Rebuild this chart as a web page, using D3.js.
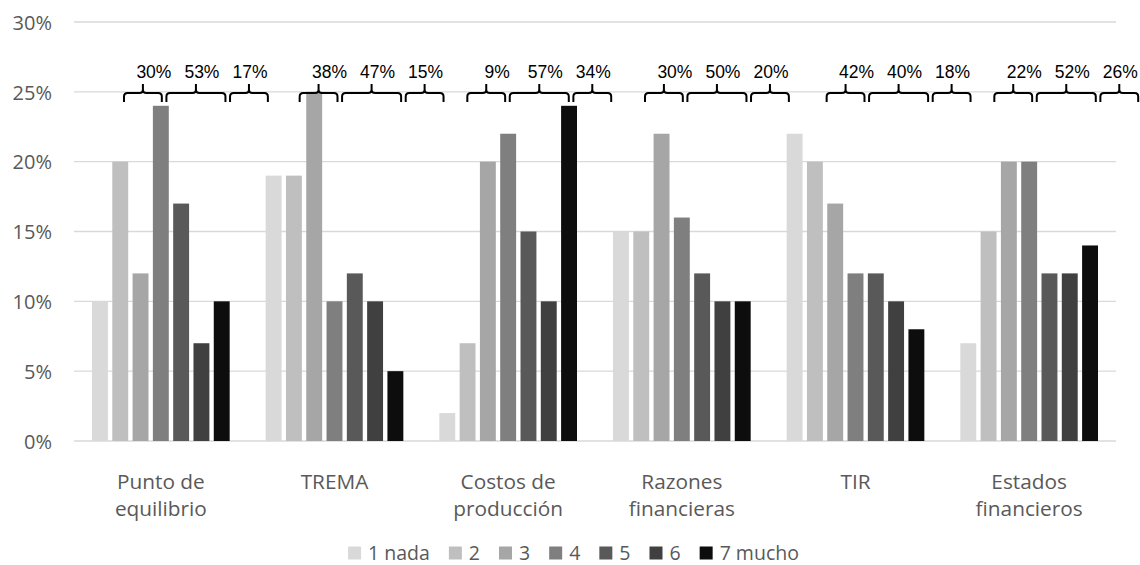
<!DOCTYPE html>
<html>
<head>
<meta charset="utf-8">
<script src="https://cdn.jsdelivr.net/npm/d3@7"></script>
<style>
  html, body { margin: 0; padding: 0; background: #fff; }
  svg { display: block; }
</style>
</head>
<body>
<svg id="chart" width="1140" height="565"></svg>
<script>
// ---------- DATA ----------
const categories = [["Punto de", "equilibrio"], ["TREMA"], ["Costos de", "producción"], ["Razones", "financieras"], ["TIR"], ["Estados", "financieros"]];
const seriesNames = ["1 nada", "2", "3", "4", "5", "6", "7 mucho"];
const s1 = [10, 19, 2, 15, 22, 7];
const s2 = [20, 19, 7, 15, 20, 15];
const s3 = [12, 25, 20, 22, 17, 20];
const s4 = [24, 10, 22, 16, 12, 20];
const s5 = [17, 12, 15, 12, 12, 12];
const s6 = [7, 10, 10, 10, 10, 12];
const s7 = [10, 5, 24, 10, 8, 14];
const yTicks = [0, 5, 10, 15, 20, 25, 30];
// grouped-percentage annotations (bars 1-2, 3-5, 6-7)
const braceGroups = [[0, 1], [2, 4], [5, 6]];
const braceLabels = [
  ["30%", "53%", "17%"],
  ["38%", "47%", "15%"],
  ["9%", "57%", "34%"],
  ["30%", "50%", "20%"],
  ["42%", "40%", "18%"],
  ["22%", "52%", "26%"]
];

// ---------- STYLE / LAYOUT ----------
const colors = ["#d9d9d9", "#bfbfbf", "#a6a6a6", "#7f7f7f", "#595959", "#404040", "#0d0d0d"];
const braceShift = [32, 34, 28, 32, 40, 34];
const labelNudge = [11, 6, 1];
const plotLeft = 74, plotRight = 1116, plotTop = 22, plotBottom = 441;
const font = "'Open Sans', 'Noto Sans', sans-serif";

const series = [s1, s2, s3, s4, s5, s6, s7];
const svg = d3.select("#chart");

const x0 = d3.scaleBand().domain(d3.range(categories.length)).range([plotLeft, plotRight]).padding(0);
const innerPad = 0.216;
const x1 = d3.scaleBand().domain(d3.range(seriesNames.length))
  .range([15.8, x0.bandwidth() - 15.8]).paddingInner(innerPad).paddingOuter(innerPad / 2);
const y = d3.scaleLinear().domain([0, 30]).range([plotBottom, plotTop]);

// gridlines
svg.append("g").selectAll("line").data(yTicks).join("line")
  .attr("x1", plotLeft).attr("x2", plotRight)
  .attr("y1", d => y(d)).attr("y2", d => y(d))
  .attr("stroke", "#d9d9d9").attr("stroke-width", 1.3);

// y axis labels
const yAxis = d3.axisLeft(y).tickValues(yTicks).tickFormat(d => d + "%").tickSize(0).tickPadding(0);
const ya = svg.append("g").attr("transform", `translate(${plotLeft - 22},0)`).call(yAxis);
ya.select(".domain").remove();
ya.selectAll("text").attr("font-family", font).attr("font-size", 20).attr("fill", "#595959").attr("dy", "0.36em");

// bars
const groups = svg.append("g").selectAll("g").data(categories).join("g")
  .attr("transform", (d, i) => `translate(${x0(i)},0)`);
groups.selectAll("rect").data((d, i) => series.map((s, k) => ({ k, v: s[i] }))).join("rect")
  .attr("x", d => x1(d.k)).attr("width", x1.bandwidth())
  .attr("y", d => y(d.v)).attr("height", d => y(0) - y(d.v))
  .attr("fill", d => colors[d.k]);

// x axis labels
const xl = svg.append("g").selectAll("text").data(categories).join("text")
  .attr("x", (d, i) => x0(i) + x0.bandwidth() / 2)
  .attr("y", 489)
  .attr("text-anchor", "middle")
  .attr("font-family", font).attr("font-size", 20.8).attr("fill", "#595959");
xl.selectAll("tspan").data(d => d).join("tspan")
  .attr("x", function () { return d3.select(this.parentNode).attr("x"); })
  .attr("dy", (d, j) => j === 0 ? 0 : 26.5)
  .text(d => d);

// braces + labels
const yLine = 93, yEnd = 102, yTip = 84, r = 3.5;
function bracePath(a, b) {
  const m = (a + b) / 2;
  return `M${a},${yEnd} L${a},${yLine + r} Q${a},${yLine} ${a + r},${yLine} L${m - r},${yLine} Q${m},${yLine} ${m},${yLine - r} L${m},${yTip}` +
    ` M${m},${yLine - r} Q${m},${yLine} ${m + r},${yLine} L${b - r},${yLine} Q${b},${yLine} ${b},${yLine + r} L${b},${yEnd}`;
}
const stretch = 1.045;
categories.forEach((c, i) => {
  const g0 = x0(i) + x1(0);
  const map = px => g0 + braceShift[i] + (px - g0) * stretch;
  braceGroups.forEach((bg, j) => {
    const a = map(x0(i) + x1(bg[0]));
    const b = map(x0(i) + x1(bg[1]) + x1.bandwidth());
    svg.append("path").attr("d", bracePath(a, b))
      .attr("fill", "none").attr("stroke", "#000").attr("stroke-width", 2);
    svg.append("text").attr("x", (a + b) / 2 + labelNudge[j]).attr("y", 78)
      .attr("text-anchor", "middle")
      .attr("font-family", "'Liberation Sans', Arial, sans-serif").attr("font-size", 17.5)
      .attr("fill", "#000").text(braceLabels[i][j]);
  });
});

// legend
const legend = svg.append("g");
let cx = 0;
seriesNames.forEach((name, k) => {
  const it = legend.append("g").attr("transform", `translate(${cx},0)`);
  it.append("rect").attr("x", 0).attr("y", 546.5).attr("width", 13).attr("height", 13).attr("fill", colors[k]);
  const t = it.append("text").attr("x", 20).attr("y", 559.5)
    .attr("font-family", font).attr("font-size", 19.5).attr("fill", "#595959").text(name);
  cx += 20 + t.node().getComputedTextLength() + 19;
});
const lw = cx - 19;
legend.attr("transform", `translate(${350 + (447 - lw) / 2},0)`);
</script>
</body>
</html>
